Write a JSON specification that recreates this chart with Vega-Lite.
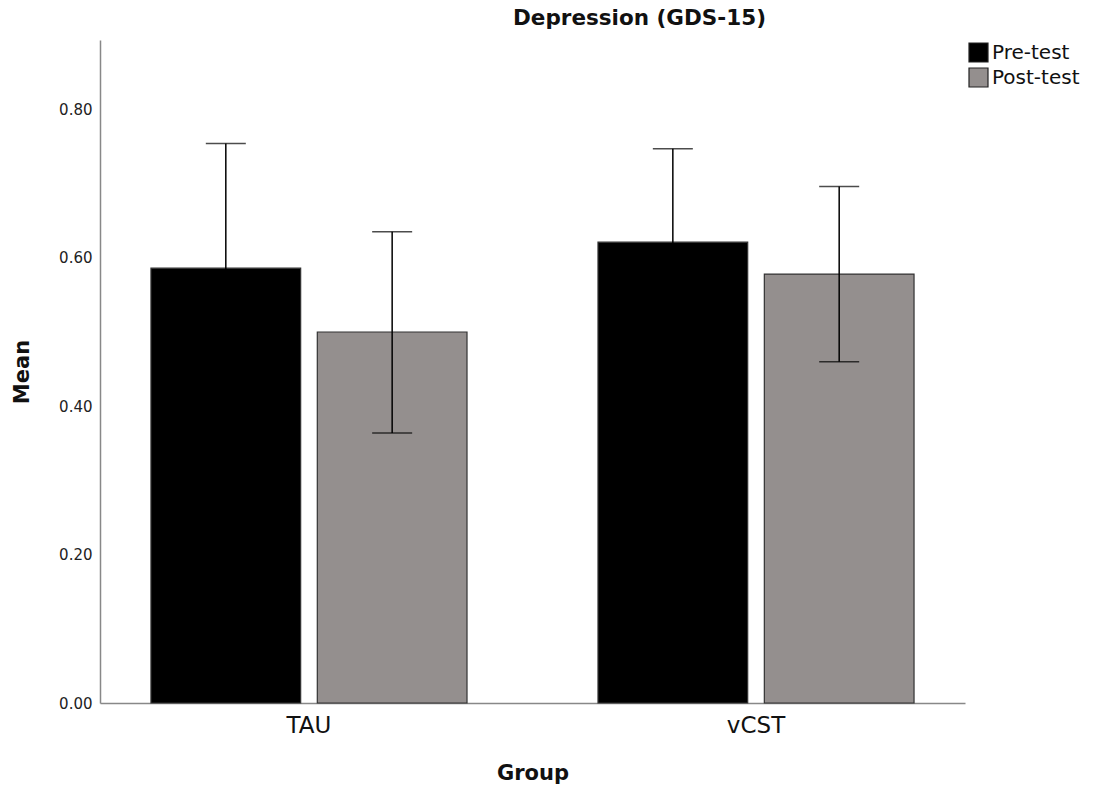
{
  "$schema": "https://vega.github.io/schema/vega-lite/v6.json",
  "width": 865,
  "height": 663,
  "autosize": {"type": "none"},
  "padding": {"left": 100, "top": 40, "right": 131, "bottom": 93},
  "background": "white",
  "title": {
    "text": "Depression (GDS-15)",
    "font": "DejaVu Sans",
    "fontSize": 21.5,
    "fontWeight": "bold",
    "color": "#111",
    "anchor": "middle",
    "dx": 107,
    "offset": 11
  },
  "data": {
    "values": [
      {"group": "TAU", "time": "Pre-test", "mean": 0.586, "lo": 0.418, "hi": 0.754},
      {"group": "TAU", "time": "Post-test", "mean": 0.500, "lo": 0.364, "hi": 0.635},
      {"group": "vCST", "time": "Pre-test", "mean": 0.621, "lo": 0.495, "hi": 0.747},
      {"group": "vCST", "time": "Post-test", "mean": 0.578, "lo": 0.460, "hi": 0.696}
    ]
  },
  "config": {
    "view": {"stroke": null},
    "font": "DejaVu Sans"
  },
  "encoding": {
    "x": {
      "field": "group",
      "type": "nominal",
      "scale": {"paddingInner": 0.293, "paddingOuter": 0.114},
      "axis": {
        "title": "Group",
        "titleFont": "DejaVu Sans",
        "titleFontSize": 21,
        "titleFontWeight": "bold",
        "titleColor": "#111",
        "titlePadding": 25,
        "labelAngle": 0,
        "labelFontSize": 23,
        "labelColor": "#111",
        "labelPadding": 11,
        "ticks": false,
        "domainColor": "#888",
        "domainWidth": 1.5
      }
    },
    "xOffset": {
      "field": "time",
      "type": "nominal",
      "sort": ["Pre-test", "Post-test"],
      "scale": {"paddingInner": 0.1, "paddingOuter": 0}
    }
  },
  "layer": [
    {
      "mark": {"type": "bar", "stroke": "#333", "strokeWidth": 1.2},
      "encoding": {
        "y": {
          "field": "mean",
          "type": "quantitative",
          "scale": {"domain": [0, 0.8935], "nice": false},
          "axis": {
            "title": "Mean",
            "titleFontSize": 21,
            "titleFontWeight": "bold",
            "titleColor": "#111",
            "titlePadding": 26,
            "values": [0, 0.2, 0.4, 0.6, 0.8],
            "format": ".2f",
            "labelFontSize": 15,
            "labelColor": "#222",
            "labelPadding": 8,
            "ticks": false,
            "grid": false,
            "domainColor": "#888",
            "domainWidth": 1.5
          }
        },
        "color": {
          "field": "time",
          "type": "nominal",
          "sort": ["Pre-test", "Post-test"],
          "scale": {"domain": ["Pre-test", "Post-test"], "range": ["#000000", "#948f8e"]},
          "legend": {
            "title": null,
            "orient": "none",
            "legendX": 868,
            "legendY": 2,
            "symbolType": "square",
            "symbolSize": 361,
            "symbolStrokeColor": "#222",
            "symbolStrokeWidth": 1.2,
            "labelFontSize": 20,
            "labelColor": "#111",
            "rowPadding": 0,
            "labelOffset": 3
          }
        }
      }
    },
    {
      "mark": {"type": "rule", "color": "#000", "strokeWidth": 1.5},
      "encoding": {
        "y": {"field": "lo", "type": "quantitative"},
        "y2": {"field": "hi"}
      }
    },
    {
      "mark": {"type": "tick", "color": "#000", "size": 40, "thickness": 1.5},
      "encoding": {
        "y": {"field": "hi", "type": "quantitative"}
      }
    },
    {
      "mark": {"type": "tick", "color": "#000", "size": 40, "thickness": 1.5},
      "encoding": {
        "y": {"field": "lo", "type": "quantitative"}
      }
    }
  ]
}
